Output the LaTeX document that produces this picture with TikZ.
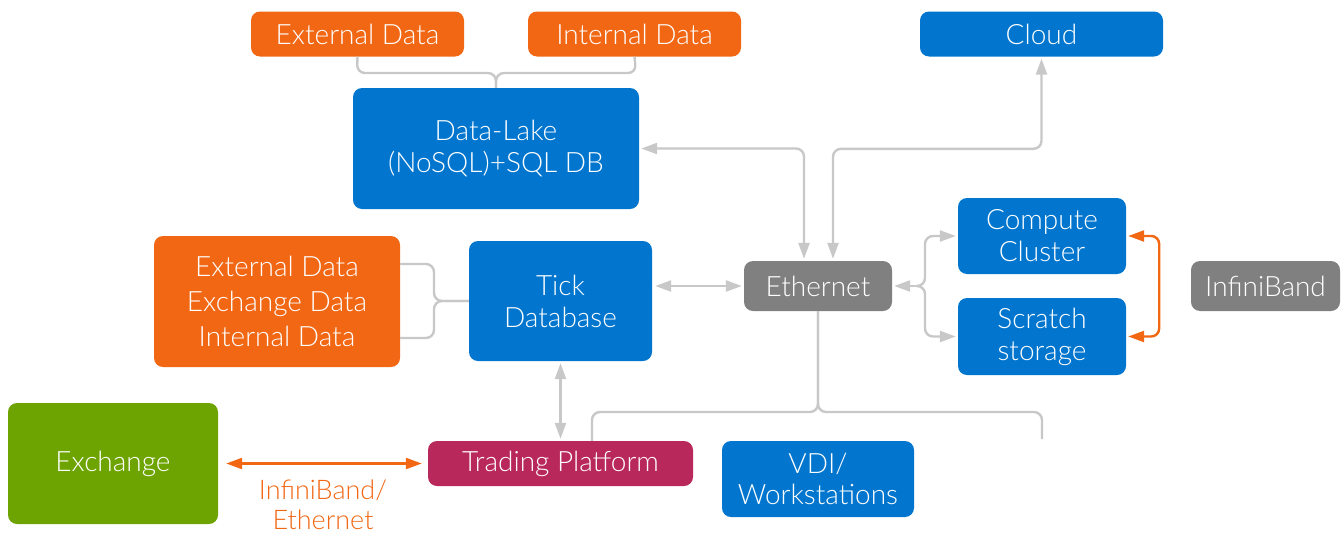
\documentclass[tikz,border=0pt]{standalone}
\usepackage{fontspec}
\setmainfont{Lato}[UprightFont=* Light]
\usetikzlibrary{arrows.meta,calc}
\definecolor{dblue}{RGB}{2,118,206}
\definecolor{dorange}{RGB}{241,103,20}
\definecolor{dgreen}{RGB}{110,164,2}
\definecolor{dgrey}{RGB}{128,128,128}
\definecolor{dmag}{RGB}{184,40,90}
\definecolor{lgrey}{RGB}{200,200,200}
\tikzset{
  box/.style={draw=none, rounded corners=9pt, text=white, align=center,
    inner sep=0pt, font=\fontsize{28}{32}\selectfont},
  bluebox/.style={box, fill=dblue},
  orangebox/.style={box, fill=dorange},
  greybox/.style={box, fill=dgrey},
  link/.style={draw=lgrey, line width=2.4pt, rounded corners=8pt},
  garrow/.style={link, arrows={Triangle[length=16pt,width=11pt]-Triangle[length=16pt,width=11pt]}},
  gtip/.style={link, -{Triangle[length=16pt,width=11pt]}},
  olink/.style={draw=dorange, line width=2.4pt, rounded corners=8pt,
    arrows={Triangle[length=16pt,width=11pt]-Triangle[length=16pt,width=11pt]}},
}
\begin{document}
\begin{tikzpicture}[x=1pt,y=-1pt]
\useasboundingbox (0,0) rectangle (1343,533);

% boxes
\node[orangebox, minimum width=213pt, minimum height=45pt] (extA) at (357.5,34) {External Data};
\node[orangebox, minimum width=213pt, minimum height=45pt] (intA) at (634.5,34) {Internal Data};
\node[bluebox, minimum width=243pt, minimum height=45pt] (cloud) at (1041.5,34) {Cloud};
\node[bluebox, minimum width=286pt, minimum height=121pt] (lake) at (496,148.5) {Data-Lake\\(NoSQL)+SQL DB};
\node[orangebox, minimum width=246pt, minimum height=131pt, font=\fontsize{28}{35}\selectfont] (srcs) at (277,301.5) {External Data\\Exchange Data\\Internal Data};
\node[bluebox, minimum width=183pt, minimum height=120pt] (tick) at (560.5,301) {Tick\\Database};
\node[greybox, minimum width=148pt, minimum height=50pt] (eth) at (818,286) {Ethernet};
\node[bluebox, minimum width=168pt, minimum height=76pt] (comp) at (1042,236) {Compute\\Cluster};
\node[bluebox, minimum width=168pt, minimum height=77pt] (scr) at (1042,336.5) {Scratch\\storage};
\node[greybox, minimum width=149pt, minimum height=50pt] (ib) at (1265.5,286) {InfiniBand};
\node[box, fill=dgreen, minimum width=210pt, minimum height=121pt] (exch) at (113,463.5) {Exchange};
\node[box, fill=dmag, minimum width=265pt, minimum height=45pt] (trade) at (560.5,463.5) {Trading Platform};
\node[bluebox, minimum width=192pt, minimum height=76pt, font=\fontsize{28}{31}\selectfont] (vdi) at (818,479) {VDI/\\Workstations};
\node[text=dorange, align=center, font=\fontsize{27}{30}\selectfont] (iblabel) at (323,505) {InfiniBand/\\Ethernet};

% junction points
\coordinate (topj) at (496,73);
\coordinate (srcj) at (434,301);
\coordinate (ethr) at (918,286);
\coordinate (ethb) at (818,412);
\coordinate (freeend) at (1042,439);

% external + internal data feed the data lake
\draw[link] (extA.south) -- (357,73) -- (topj) -- (lake.north);
\draw[link] (intA.south) -- (636,73) -- (topj) -- (lake.north);

% data sources feed the tick database
\draw[link] (srcs.east |- 0,264) -- (434,264) -- (srcj) -- (tick.west |- srcj);
\draw[link] (srcs.east |- 0,338) -- (434,338) -- (srcj) -- (tick.west |- srcj);

% ethernet links
\draw[garrow, shorten <=2pt, shorten >=2pt] (lake.east) -| ([xshift=-14pt]eth.north);
\draw[garrow, shorten <=2pt, shorten >=2pt] ([xshift=15pt]eth.north) -- ++(0,-112) -| (cloud.south);
\draw[garrow, shorten <=3pt, shorten >=2pt] (tick.east |- eth.west) -- (eth.west);
\draw[gtip, shorten >=2pt] (ethr) -- (eth.east);
\draw[gtip, shorten >=2pt] (ethr) -- (925,286) |- (comp.west);
\draw[gtip, shorten >=2pt] (ethr) -- (925,286) |- (scr.west);

% ethernet down to the platform and workstations
\draw[link] (eth.south) -- (ethb) -- (592,412) -- ([xshift=31.5pt]trade.north);
\draw[link] (eth.south) -- (ethb) -- (1042,412) -- (freeend);

% tick database to trading platform
\draw[garrow, shorten <=2pt, shorten >=2pt] (tick.south) -- (trade.north);

% infiniband between compute and scratch
\draw[olink, shorten <=2pt, shorten >=2pt] (comp.east) -- ++(33,0) |- (scr.east);

% exchange link
\draw[olink, shorten <=8pt, shorten >=6pt] (exch.east |- trade.west) -- (trade.west);
\end{tikzpicture}
\end{document}
